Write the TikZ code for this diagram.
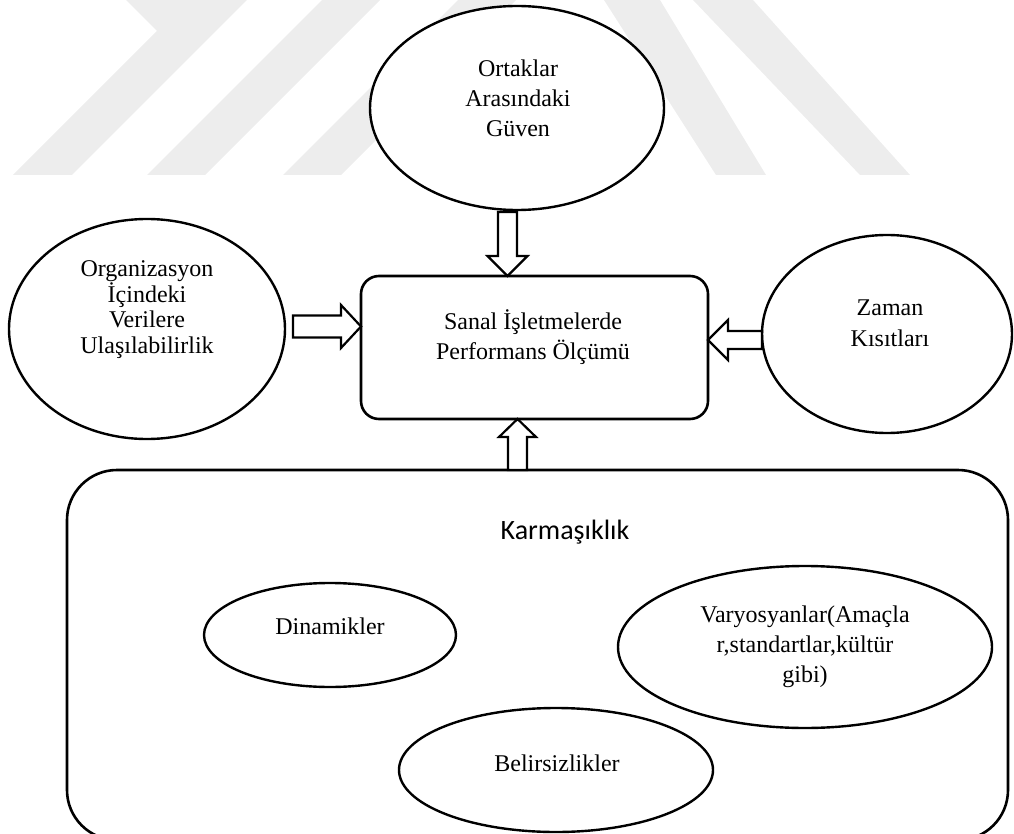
\documentclass[tikz,border=0pt]{standalone}
\usepackage{fontspec}
\setmainfont{Liberation Serif}
\newfontfamily\labelsans{Carlito}
\usetikzlibrary{calc,shapes.geometric}

\tikzset{
  x=1pt, y=-1pt,
  outline/.style={draw=black, line width=2.4pt, fill=white},
  bubble/.style={outline, ellipse, inner sep=0pt, outer sep=0pt},
  panel/.style={outline, line width=2.6pt, rectangle, inner sep=0pt, outer sep=0pt},
  caption/.style={align=center, inner sep=0pt, font=\fontsize{24}{30}\selectfont},
  mark band/.style={fill=black!7, draw=none},
  fa shaft/.store in=\faShaft,
  fa head/.store in=\faHead,
  fa tip/.store in=\faTip,
  fa shaft=10, fa head=20, fa tip=20,
  arrowframe/.style={shift={(\p1)}, rotate=\n1},
  % hollow block arrow drawn from the start point to the target point
  fat arrow/.style={draw=black, line width=2.2pt, fill=white, line join=miter,
    to path={let \p1=(\tikztostart), \p2=(\tikztotarget),
      \n1={atan2(\y2-\y1,\x2-\x1)}, \n2={veclen(\x2-\x1,\y2-\y1)} in
      ([arrowframe]0,-\faShaft) -- ([arrowframe]\n2-\faTip,-\faShaft)
      -- ([arrowframe]\n2-\faTip,-\faHead) -- ([arrowframe]\n2,0)
      -- ([arrowframe]\n2-\faTip,\faHead) -- ([arrowframe]\n2-\faTip,\faShaft)
      -- ([arrowframe]0,\faShaft) -- cycle}},
}

\begin{document}
\begin{tikzpicture}
\useasboundingbox (0,0) rectangle (1014,834);
\clip (0,0) rectangle (1014,834);

% faint background stripes
\fill[mark band] (126,0) -- (247,0) -- (72,175) -- (13,175) -- (157,31) -- cycle;
\fill[mark band] (322,0) -- (380,0) -- (205,175) -- (147,175) -- cycle;
\fill[mark band] (458,0) -- (516,0) -- (341,175) -- (283,175) -- cycle;
\fill[mark band] (604,0) -- (660,0) -- (766,175) -- (716,175) -- cycle;
\fill[mark band] (693,0) -- (753,0) -- (910,175) -- (860,175) -- cycle;

% main elements
\node[bubble, minimum width=294pt, minimum height=204pt] (trust) at (517,108) {};
\node[caption] (trust-t) at (518,98) {Ortaklar\\Arasındaki\\Güven};

\node[panel, rounded corners=18pt, minimum width=347pt, minimum height=143pt] (box) at (534.5,347.5) {};
\node[caption] (box-t) at (533,337) {Sanal İşletmelerde\\Performans Ölçümü};

\node[bubble, minimum width=276pt, minimum height=220pt] (org) at (147,329) {};
\node[caption, font=\fontsize{24}{25.5}\selectfont] (org-t) at (147,309.5) {Organizasyon\\İçindeki\\Verilere\\Ulaşılabilirlik};

\node[bubble, minimum width=250pt, minimum height=198pt] (time) at (887,334) {};
\node[caption, font=\fontsize{24}{31}\selectfont] (time-t) at (890,323.5) {Zaman\\Kısıtları};

% complexity panel
\node[panel, rounded corners=50pt, minimum width=941pt, minimum height=370pt] (cont) at (537.5,655) {};
\node[inner sep=0pt, font=\labelsans\fontsize{28}{34}\selectfont] (cont-t) at (565,532) {Karmaşıklık};

\node[bubble, minimum width=252pt, minimum height=104pt] (dyn) at (330,635) {};
\node[caption] (dyn-t) at (330,626) {Dinamikler};

\node[bubble, minimum width=374pt, minimum height=162pt] (var) at (805,647) {};
\node[caption] (var-t) at (805,647) {Varyosyanlar(Amaçla\\r,standartlar,kültür\\gibi)};

\node[bubble, minimum width=314pt, minimum height=124pt] (unc) at (556,770) {};
\node[caption] (unc-t) at (557,763) {Belirsizlikler};

% arrow end points
\coordinate (a1s) at ([xshift=-9.5pt,yshift=-2pt]trust.south);
\coordinate (a1e) at (a1s |- box.north);
\coordinate (a2s) at ([xshift=8pt,yshift=2.5pt]org.east);
\coordinate (a2e) at (a2s -| box.west);
\coordinate (a3s) at ([yshift=-6pt]time.west);
\coordinate (a3e) at (a3s -| box.east);
\coordinate (a4e) at ([xshift=-17pt]box.south);
\coordinate (a4s) at (a4e |- cont.north);

\draw[fat arrow, fa shaft=9.5, fa head=20, fa tip=20] (a1s) to (a1e);
\draw[fat arrow, fa shaft=11, fa head=21.5, fa tip=20] (a2s) to (a2e);
\draw[fat arrow, fa shaft=9, fa head=20, fa tip=20] (a3s) to (a3e);
\draw[fat arrow, fa shaft=9.5, fa head=18.5, fa tip=18] (a4s) to (a4e);
\end{tikzpicture}
\end{document}
